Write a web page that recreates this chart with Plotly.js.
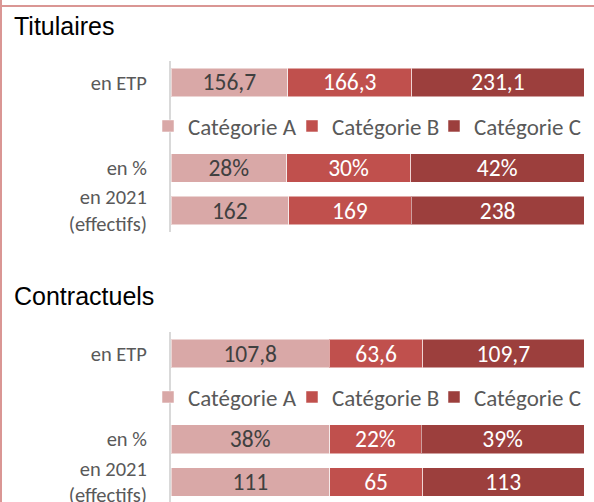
<!DOCTYPE html>
<html>
<head>
<meta charset="utf-8">
<script src="https://cdn.plot.ly/plotly-3.0.1.min.js"></script>
<style>
  html, body { margin: 0; padding: 0; background: #fff; overflow: hidden; }
  #chart { width: 594px; height: 502px; }
</style>
</head>
<body>
<div id="chart"></div>
<script>
// ---- Data ----
const rowLabels = ["en ETP", " ", "en %", "en 2021<br>(effectifs)"];
const categories = ["Catégorie A", "Catégorie B", "Catégorie C"];
const panelTitles = ["Titulaires", "Contractuels"];

const titEtp = [156.7, 166.3, 231.1];
const titPct = [28, 30, 42];
const tit2021 = [162, 169, 238];

const conEtp = [107.8, 63.6, 109.7];
const conPct = [38, 22, 39];
const con2021 = [111, 65, 113];

// ---- Styles ----
const colors = ["#d9a8a7", "#c0504d", "#9c3f3d"];
const labelColors = ["#404040", "#ffffff", "#ffffff"];
const FONT = "Carlito, Calibri, Lato, sans-serif";
const LABEL_SIZE = 23.5;
const W = 594, H = 502, ML = 171, MR = 10;
const PW = W - ML - MR;

function fmt1(v) { return v.toFixed(1).replace(".", ","); }

function panelTraces(etp, pct, eff, xa, ya, legendIds) {
  return categories.map((c, i) => ({
    type: "bar",
    orientation: "h",
    name: c,
    y: rowLabels,
    x: [etp[i], null, pct[i], eff[i]],
    text: [fmt1(etp[i]), "", pct[i] + "%", String(eff[i])],
    textposition: "inside",
    insidetextanchor: "middle",
    constraintext: "none",
    textangle: 0,
    textfont: { family: FONT, size: LABEL_SIZE, color: labelColors[i] },
    marker: { color: colors[i], line: { color: "rgba(255,255,255,0.5)", width: 1 } },
    xaxis: xa, yaxis: ya,
    legend: legendIds[i],
    hoverinfo: "skip"
  }));
}

const data = [
  ...panelTraces(titEtp, titPct, tit2021, "x", "y", ["legend", "legend2", "legend3"]),
  ...panelTraces(conEtp, conPct, con2021, "x2", "y2", ["legend4", "legend5", "legend6"])
];

function py(px) { return 1 - px / H; }
function pxX(px) { return (px - ML) / PW; }

const yaxisCommon = {
  type: "category",
  showgrid: false,
  zeroline: false,
  showline: true,
  linecolor: "#d9d9d9",
  linewidth: 2,
  ticks: "outside",
  ticklen: 18,
  tickcolor: "rgba(0,0,0,0)",
  tickfont: { family: FONT, size: 20.5, color: "#595959" },
  automargin: false,
  fixedrange: true
};
const xaxisCommon = {
  range: [0, 1],
  visible: false,
  showgrid: false,
  zeroline: false,
  fixedrange: true
};
function mkLegend(xpx, ypx) {
  return {
    orientation: "h",
    xanchor: "left",
    yanchor: "middle",
    x: pxX(xpx),
    y: py(ypx),
    font: { family: FONT, size: 23, color: "#595959" },
    bgcolor: "rgba(0,0,0,0)",
    itemclick: false,
    itemdoubleclick: false
  };
}
const legendXs = [148, 292, 434];

const layout = {
  width: W, height: H,
  margin: { l: ML, r: MR, t: 0, b: 0 },
  paper_bgcolor: "#ffffff",
  plot_bgcolor: "#ffffff",
  barmode: "stack",
  barnorm: "fraction",
  bargap: 0.33,
  uniformtext: { mode: "show", minsize: LABEL_SIZE },
  showlegend: true,
  xaxis: Object.assign({}, xaxisCommon, { domain: [0, 1], anchor: "y" }),
  yaxis: Object.assign({}, yaxisCommon, { domain: [py(232), py(61)], range: [3.5, -0.5], anchor: "x" }),
  xaxis2: Object.assign({}, xaxisCommon, { domain: [0, 1], anchor: "y2" }),
  yaxis2: Object.assign({}, yaxisCommon, { domain: [0, py(332)], range: [3.467, -0.502], anchor: "x2" }),
  legend: mkLegend(legendXs[0], 126),
  legend2: mkLegend(legendXs[1], 126),
  legend3: mkLegend(legendXs[2], 126),
  legend4: mkLegend(legendXs[0], 397),
  legend5: mkLegend(legendXs[1], 397),
  legend6: mkLegend(legendXs[2], 397),
  annotations: [
    { text: panelTitles[0], xref: "paper", yref: "paper", x: pxX(12), y: py(26),
      xanchor: "left", yanchor: "middle", showarrow: false,
      font: { family: "Liberation Sans Narrow, Arial Narrow, Liberation Sans, sans-serif", size: 25, color: "#000000" } },
    { text: panelTitles[1], xref: "paper", yref: "paper", x: pxX(12), y: py(296),
      xanchor: "left", yanchor: "middle", showarrow: false,
      font: { family: "Liberation Sans Narrow, Arial Narrow, Liberation Sans, sans-serif", size: 25, color: "#000000" } }
  ],
  shapes: [
    { type: "line", xref: "paper", yref: "paper", x0: pxX(0), x1: pxX(594), y0: py(6), y1: py(6),
      line: { color: "#da9694", width: 2 } },
    { type: "line", xref: "paper", yref: "paper", x0: pxX(1), x1: pxX(1), y0: py(0), y1: py(502),
      line: { color: "#da9694", width: 2 } }
  ]
};

Plotly.newPlot("chart", data, layout, { displayModeBar: false, staticPlot: true });
</script>
</body>
</html>
